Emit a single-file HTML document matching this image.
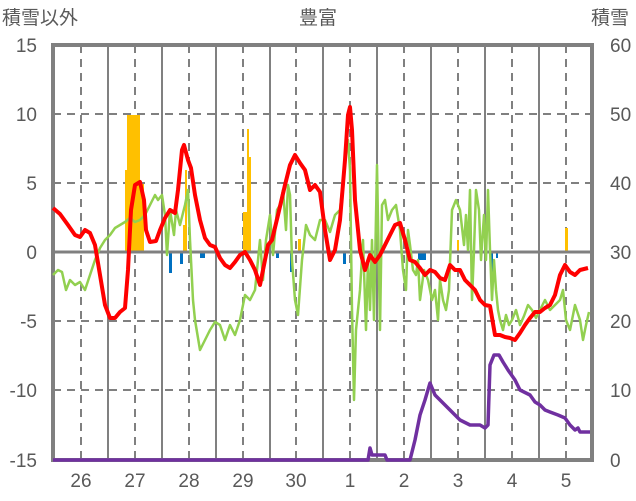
<!DOCTYPE html><html><head><meta charset="utf-8"><style>body{margin:0;background:#fff}svg{display:block}text{font-family:"Liberation Sans","Noto Sans CJK JP",sans-serif;fill:#595959;font-size:19px}</style></head><body>
<svg width="636" height="501" xmlns="http://www.w3.org/2000/svg">
<text x="40" y="24" text-anchor="middle" font-size="18">積雪以外</text>
<text x="318" y="24" text-anchor="middle" font-size="18">豊富</text>
<text x="610" y="24" text-anchor="middle" font-size="18">積雪</text>
<g stroke="#808080" stroke-width="2" stroke-dasharray="8,6">
<line x1="53" y1="114" x2="592" y2="114"/><line x1="53" y1="183" x2="592" y2="183"/><line x1="53" y1="321" x2="592" y2="321"/><line x1="53" y1="390" x2="592" y2="390"/>
<line x1="81" y1="45" x2="81" y2="460"/><line x1="135" y1="45" x2="135" y2="460"/><line x1="189" y1="45" x2="189" y2="460"/><line x1="243" y1="45" x2="243" y2="460"/><line x1="296" y1="45" x2="296" y2="460"/><line x1="350" y1="45" x2="350" y2="460"/><line x1="404" y1="45" x2="404" y2="460"/><line x1="458" y1="45" x2="458" y2="460"/><line x1="512" y1="45" x2="512" y2="460"/><line x1="566" y1="45" x2="566" y2="460"/>
</g>
<g stroke="#808080" stroke-width="2">
<line x1="108" y1="45" x2="108" y2="460"/><line x1="162" y1="45" x2="162" y2="460"/><line x1="216" y1="45" x2="216" y2="460"/><line x1="270" y1="45" x2="270" y2="460"/><line x1="323" y1="45" x2="323" y2="460"/><line x1="377" y1="45" x2="377" y2="460"/><line x1="431" y1="45" x2="431" y2="460"/><line x1="485" y1="45" x2="485" y2="460"/><line x1="539" y1="45" x2="539" y2="460"/>
</g>
<g fill="#FFC000">
<rect x="125" y="170" width="3" height="82"/><rect x="127" y="115" width="13" height="137"/><rect x="140" y="184" width="4" height="68"/>
<rect x="183" y="225" width="3" height="27"/><rect x="185" y="170" width="2" height="82"/>
<rect x="243" y="212" width="4" height="40"/><rect x="247" y="129" width="2" height="123"/><rect x="249" y="157" width="2" height="95"/>
<rect x="298" y="239" width="3" height="13"/><rect x="565" y="228" width="3" height="24"/><rect x="457" y="240" width="2" height="12"/>
</g>
<g fill="#0070C0">
<rect x="169" y="252" width="3" height="21"/><rect x="180" y="252" width="3" height="12"/><rect x="200" y="252" width="5" height="6"/><rect x="276" y="252" width="3" height="6"/><rect x="290" y="252" width="3" height="20"/><rect x="343" y="252" width="3" height="12"/><rect x="418" y="252" width="8" height="8"/><rect x="490" y="252" width="3" height="20"/><rect x="496" y="252" width="2" height="6"/>
</g>
<line x1="53" y1="252" x2="592" y2="252" stroke="#808080" stroke-width="3"/>
<rect x="53" y="45" width="539" height="415" fill="none" stroke="#808080" stroke-width="4"/>
<g fill="none" stroke-linejoin="round">
<polyline stroke="#92D050" stroke-width="2.5" points="53,275 58,270 62,272 66,290 70,280 75,285 80,282 85,290 90,275 95,260 100,248 105,240 110,235 115,228 120,225 125,222 130,218 135,222 140,220 145,215 150,205 155,195 158,200 162,195 165,215 167,255 170,210 174,235 176,210 180,225 185,205 188,190 190,240 193,300 195,320 200,350 205,340 210,330 215,322 220,325 225,340 230,325 235,335 240,320 245,295 250,300 255,290 258,260 260,240 263,280 266,240 270,215 273,255 277,210 280,205 283,190 286,230 288,185 290,195 292,260 295,300 298,315 302,260 306,225 310,235 315,240 320,220 325,220 330,232 335,215 340,210 345,160 348,140 350,170 352,310 354,400 356,330 360,290 363,240 366,330 368,260 370,310 372,240 374,320 377,165 380,330 382,205 385,200 388,220 392,210 396,205 400,230 403,270 406,290 408,230 410,245 413,270 416,275 418,260 420,300 424,270 428,280 432,300 435,290 438,320 440,280 443,300 446,310 449,290 452,210 456,200 460,210 464,245 466,215 468,250 470,190 472,300 474,250 476,190 479,210 481,260 484,215 486,260 488,190 490,250 492,300 494,260 496,290 498,310 500,320 503,330 506,315 509,325 512,320 516,310 520,325 524,316 528,305 532,310 536,318 540,310 545,300 550,310 555,305 560,300 563,290 566,320 570,330 575,305 580,320 583,340 586,325 589,312"/>
<polyline stroke="#FF0000" stroke-width="4" points="53,208 60,214 68,225 75,235 80,237 85,230 90,233 95,245 100,275 105,305 110,318 115,318 120,312 125,308 128,270 131,210 135,185 140,182 144,200 146,230 150,242 156,241 160,230 165,218 170,210 175,213 178,190 182,150 184,145 188,160 191,168 195,195 200,220 205,238 210,245 215,247 220,258 225,265 230,268 235,262 240,255 245,252 250,260 255,270 260,285 263,270 268,245 272,240 278,215 285,185 290,165 295,155 300,163 305,170 310,190 315,185 320,192 325,230 330,260 335,250 340,220 345,160 348,115 350,107 352,130 355,200 360,250 365,270 370,255 375,262 380,255 385,245 390,235 395,225 400,223 405,240 410,260 415,262 420,268 425,275 430,270 435,272 440,278 445,280 450,265 455,270 460,270 465,280 470,285 475,290 480,300 485,305 490,306 495,335 500,335 505,337 510,338 515,340 520,333 525,325 530,318 535,312 540,312 545,308 550,305 555,295 560,275 565,265 570,272 575,275 580,270 588,268"/>
<polyline stroke="#7030A0" stroke-width="3.5" points="53,460 368,460 370,448 372,455 385,455 387,460 410,460 415,440 420,415 425,400 430,383 435,395 440,400 445,405 450,410 455,415 460,420 470,425 480,425 485,428 488,425 490,365 494,355 499,355 503,362 508,370 515,380 520,390 530,395 535,402 540,405 545,410 550,412 558,415 565,418 570,425 575,430 578,428 580,432 590,432"/>
</g>
<g text-anchor="end"><text x="37" y="52">15</text><text x="37" y="121">10</text><text x="37" y="190">5</text><text x="37" y="259">0</text><text x="37" y="328">-5</text><text x="37" y="397">-10</text><text x="37" y="467">-15</text></g>
<g><text x="610" y="52">60</text><text x="610" y="121">50</text><text x="610" y="190">40</text><text x="610" y="259">30</text><text x="610" y="328">20</text><text x="610" y="397">10</text><text x="610" y="467">0</text></g>
<g text-anchor="middle"><text x="81" y="487">26</text><text x="135" y="487">27</text><text x="189" y="487">28</text><text x="243" y="487">29</text><text x="296" y="487">30</text><text x="350" y="487">1</text><text x="404" y="487">2</text><text x="458" y="487">3</text><text x="512" y="487">4</text><text x="566" y="487">5</text></g>
</svg></body></html>
